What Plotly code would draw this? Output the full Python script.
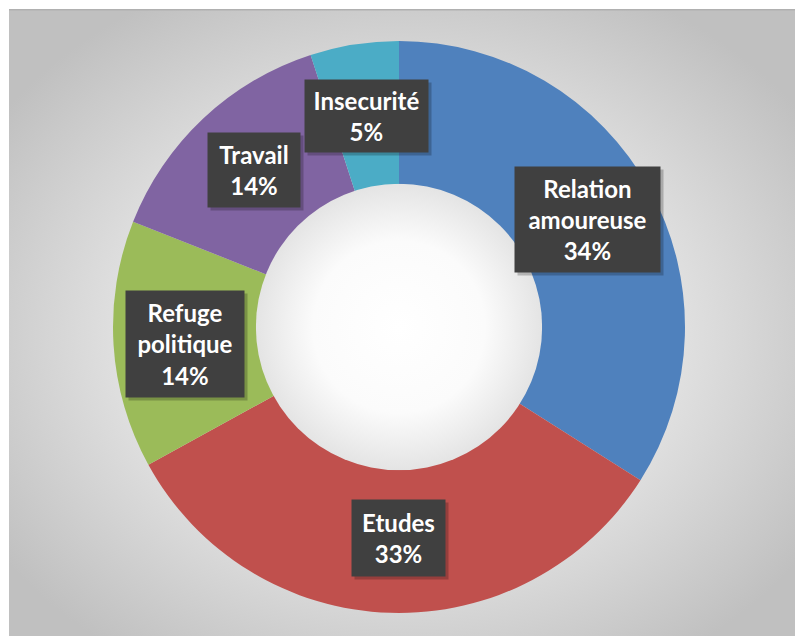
import base64
import plotly.graph_objects as go

labels = ["Relation amoureuse", "Etudes", "Refuge politique", "Travail", "Insecurité"]
values = [34, 33, 14, 14, 5]
colors = ["#4f81bd", "#c0504d", "#9bbb59", "#8064a2", "#4bacc6"]
# label box centres and sizes in pixels (x from left, y from top)
label_pos = [(587, 220), (398, 538), (185, 344), (254, 170), (366, 116)]
label_box = [(145, 105), (93, 76), (118, 106), (92, 74), (123, 72)]

W, H = 795, 636
cx, cy, R = 399, 327, 286
HOLE = 0.497
PAD = 3


def b64svg(s):
    return "data:image/svg+xml;base64," + base64.b64encode(s.encode()).decode()


bg_svg = '''<svg xmlns="http://www.w3.org/2000/svg" width="786" height="627" viewBox="0 0 786 627">
<defs><radialGradient id="g" cx="50%" cy="52%" r="62%">
<stop offset="0" stop-color="#ebebeb"/><stop offset="0.55" stop-color="#e2e2e2"/><stop offset="1" stop-color="#c0c0c0"/>
</radialGradient></defs>
<rect x="0" y="0" width="786" height="627" fill="url(#g)"/>
<line x1="0" y1="0.5" x2="786" y2="0.5" stroke="#b0b0b0" stroke-width="2"/>
</svg>'''

hole_svg = '''<svg xmlns="http://www.w3.org/2000/svg" width="200" height="200" viewBox="0 0 200 200">
<defs><radialGradient id="h" cx="50%" cy="50%" r="50%">
<stop offset="0" stop-color="#ffffff"/><stop offset="0.6" stop-color="#fbfbfb"/><stop offset="1" stop-color="#e4e4e4"/>
</radialGradient></defs>
<circle cx="100" cy="100" r="100" fill="url(#h)"/>
</svg>'''

fig = go.Figure(go.Pie(
    labels=labels, values=values, sort=False, direction="clockwise", rotation=0,
    hole=HOLE, marker=dict(colors=colors, line=dict(width=0)),
    textinfo="none", hoverinfo="label+percent", showlegend=False,
    domain=dict(x=[(cx - R) / W, (cx + R) / W], y=[(H - cy - R) / H, (H - cy + R) / H]),
))

fig.add_layout_image(dict(source=b64svg(bg_svg), xref="paper", yref="paper", x=9 / W, y=1 - 9 / H,
                          sizex=(W - 9) / W, sizey=(H - 9) / H, sizing="stretch",
                          xanchor="left", yanchor="top", layer="below"))
r_h = R * HOLE + 1
fig.add_layout_image(dict(source=b64svg(hole_svg), xref="paper", yref="paper", x=cx / W, y=1 - cy / H,
                          sizex=2 * r_h / W, sizey=2 * r_h / H, sizing="stretch",
                          xanchor="center", yanchor="middle", layer="above"))

fam = "Lato, Open Sans, sans-serif"
for (lab, v, (px, py), (bw, bh)) in zip(labels, values, label_pos, label_box):
    txt = "<b>" + lab.replace(" ", "<br>") + "<br>" + f"{v}%" + "</b>"
    common = dict(x=px / W, y=1 - py / H, xref="paper", yref="paper", showarrow=False,
                  xanchor="center", yanchor="middle", width=bw - 2 * PAD, height=bh - 2 * PAD,
                  borderpad=PAD, valign="middle", align="center")
    fig.add_annotation(text=" ", font=dict(family=fam, size=24, color="rgba(0,0,0,0)"),
                       bgcolor="rgba(0,0,0,0.22)", xshift=3, yshift=-3, **common)
    fig.add_annotation(text=txt, font=dict(family=fam, size=24, color="white"),
                       bgcolor="#404040", **common)

fig.update_layout(width=W, height=H, margin=dict(l=0, r=0, t=0, b=0),
                  paper_bgcolor="white", plot_bgcolor="white")
fig.write_html("out.html", config={"displayModeBar": False},
               post_script="document.body.style.margin='0';document.body.style.overflow='hidden';")
